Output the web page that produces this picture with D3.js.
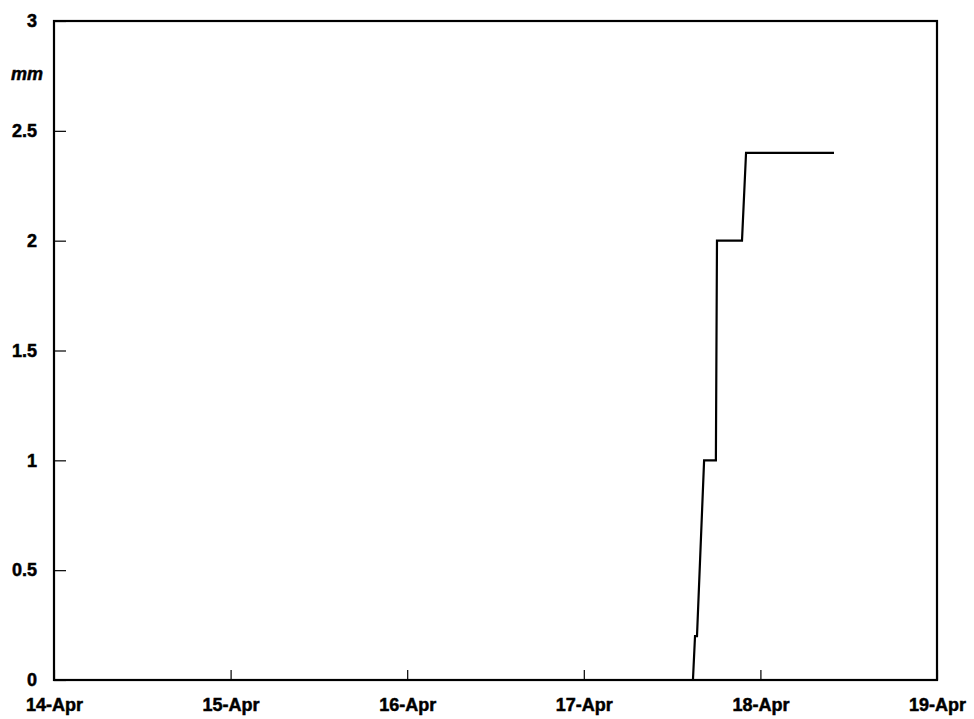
<!DOCTYPE html>
<html>
<head>
<meta charset="utf-8">
<script src="https://cdn.jsdelivr.net/npm/d3@7"></script>
<style>
  html, body { margin: 0; padding: 0; background: #fff; }
  svg { display: block; }
  text { font-family: "Liberation Sans", Arial, sans-serif; font-weight: bold; fill: #000; stroke: #000; stroke-width: 0.5px; }
</style>
</head>
<body>
<svg id="chart" width="974" height="719"></svg>
<script>
// Cumulative rainfall (mm) readings
const times = [
  "2024-04-14 00:00",
  "2024-04-17 14:50",
  "2024-04-17 15:07",
  "2024-04-17 15:23",
  "2024-04-17 16:21",
  "2024-04-17 17:57",
  "2024-04-17 18:06",
  "2024-04-17 21:30",
  "2024-04-17 22:03",
  "2024-04-18 10:00"
];
const rainfall = [0, 0, 0.2, 0.2, 1.0, 1.0, 2.0, 2.0, 2.4, 2.4];

const xDomain = ["2024-04-14 00:00", "2024-04-19 00:00"];
const yTicks = [0, 0.5, 1, 1.5, 2, 2.5, 3];
const yTickLabels = ["0", "0.5", "1", "1.5", "2", "2.5", "3"];
const unitLabel = "mm";

const parse = d3.timeParse("%Y-%m-%d %H:%M");
const data = times.map((t, i) => ({ t: parse(t), v: rainfall[i] }));

const svg = d3.select("#chart");
svg.append("rect").attr("width", 974).attr("height", 719).attr("fill", "#fff");

const plotLeft = 54, plotRight = 937, plotTop = 21, plotBottom = 680;

const x = d3.scaleTime().domain(xDomain.map(parse)).range([plotLeft, plotRight]);
const y = d3.scaleLinear().domain([0, 3]).range([plotBottom, plotTop]);

// Inward ticks along the bottom edge
const dayFmt = d3.timeFormat("%d-%b");
const xAxis = d3.axisBottom(x)
  .ticks(d3.timeDay.every(1))
  .tickFormat(d => dayFmt(d).replace(/^0/, ""))
  .tickSize(-10)
  .tickPadding(20);
const gx = svg.append("g").attr("transform", `translate(0,${plotBottom})`).call(xAxis);
gx.select(".domain").remove();
gx.selectAll("line").attr("stroke", "#000").attr("stroke-width", 1.2);
gx.selectAll("text").attr("font-size", 18).attr("dy", "0.6em");

// Inward ticks along the left edge
const yAxis = d3.axisLeft(y)
  .tickValues(yTicks)
  .tickFormat((d, i) => yTickLabels[i])
  .tickSize(-12)
  .tickPadding(17);
const gy = svg.append("g").attr("transform", `translate(${plotLeft},0)`).call(yAxis);
gy.select(".domain").remove();
gy.selectAll("line").attr("stroke", "#000").attr("stroke-width", 1.2);
gy.selectAll("text").attr("font-size", 18);

// Plot frame
svg.append("rect")
  .attr("x", plotLeft).attr("y", plotTop)
  .attr("width", plotRight - plotLeft).attr("height", plotBottom - plotTop)
  .attr("fill", "none").attr("stroke", "#000").attr("stroke-width", 2.2);

// Unit label
svg.append("text")
  .attr("x", 43).attr("y", 80)
  .attr("text-anchor", "end")
  .attr("font-size", 18)
  .attr("font-style", "italic")
  .text(unitLabel);

// Rainfall trace
const line = d3.line().x(d => x(d.t)).y(d => y(d.v));
svg.append("path")
  .datum(data)
  .attr("d", line)
  .attr("fill", "none")
  .attr("stroke", "#000")
  .attr("stroke-width", 2.2)
  .attr("stroke-linejoin", "miter");
</script>
</body>
</html>
